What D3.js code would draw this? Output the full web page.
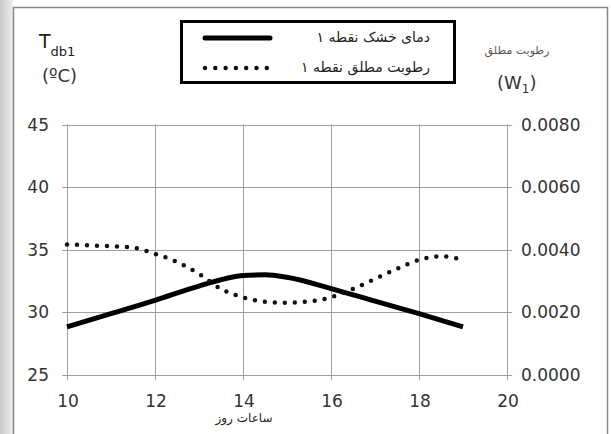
<!DOCTYPE html>
<html><head><meta charset="utf-8">
<script src="https://cdn.jsdelivr.net/npm/d3@7/dist/d3.min.js"></script>
<style>body{margin:0;background:#fff}svg{display:block}</style>
</head><body><svg id="c" width="611" height="434"></svg>
<script>
const hoursT = [10, 11, 12, 13, 14, 14.5, 15, 16, 17, 18, 19];
const tempT  = [28.85, 29.9, 30.96, 32.1, 32.95, 33.0, 32.8, 31.9, 30.9, 29.9, 28.85];
const hoursW = [10, 11, 11.5, 12, 12.5, 13, 13.5, 14, 14.5, 15, 15.5, 16, 16.5, 17, 17.5, 18, 18.5, 19];
const humW   = [0.00417, 0.00411, 0.00407, 0.00387, 0.00361, 0.00323, 0.00275, 0.00248, 0.00234, 0.00231, 0.00235, 0.00248, 0.00275, 0.00307, 0.00339, 0.00368, 0.00379, 0.00368];
const xTicks = [10, 12, 14, 16, 18, 20];
const yLeftTicks = [25, 30, 35, 40, 45];
const yRightTicks = [0, 0.002, 0.004, 0.006, 0.008];
const legendLabels = ["دمای خشک نقطه ۱", "رطوبت مطلق نقطه ۱"];
const xTitle = "ساعات روز";
const yRightTitle = "رطوبت مطلق";

const svg = d3.select("#c");
const F = "DejaVu Sans";
const defs = svg.append("defs");
const g1 = defs.append("linearGradient").attr("id","lg").attr("x1","0").attr("x2","1");
g1.append("stop").attr("offset","0").attr("stop-color","#c8c8c8");
g1.append("stop").attr("offset","1").attr("stop-color","#eeeeee");
svg.append("rect").attr("x",0).attr("y",0).attr("width",13).attr("height",434).attr("fill","url(#lg)");
svg.append("path").attr("d","M13.5,434 V7.5 H607.5 V434").attr("fill","none").attr("stroke","#888").attr("stroke-width",1.5);

const x = d3.scaleLinear().domain([10,20]).range([67,507]);
const yL = d3.scaleLinear().domain([25,45]).range([375,124.5]);
const yR = d3.scaleLinear().domain([0,0.008]).range([375,124.5]);

const grid = svg.append("g").attr("stroke","#a0a0a0").attr("stroke-width",1);
xTicks.forEach(t=>grid.append("line").attr("x1",Math.round(x(t))+0.5).attr("x2",Math.round(x(t))+0.5).attr("y1",124.5).attr("y2",380));
yLeftTicks.forEach(t=>grid.append("line").attr("x1",62).attr("x2",512).attr("y1",Math.round(yL(t))+0.5).attr("y2",Math.round(yL(t))+0.5));

const lab = svg.append("g").attr("font-family",F).attr("font-size",17).attr("fill","#333");
yLeftTicks.forEach(t=>lab.append("text").attr("x",49).attr("y",yL(t)+6).attr("text-anchor","end").text(t));
yRightTicks.forEach(t=>lab.append("text").attr("x",521).attr("y",yR(t)+6).text(d3.format(".4f")(t)));
xTicks.forEach(t=>lab.append("text").attr("x",x(t)+1).attr("y",407).attr("text-anchor","middle").text(t));

svg.append("text").attr("x",244).attr("y",422).attr("text-anchor","middle").attr("font-family",F).attr("font-size",12).attr("fill","#222").text(xTitle);

// left title
const lt = svg.append("text").attr("font-family",F).attr("fill","#222");
lt.append("tspan").attr("x",39).attr("y",48).attr("font-size",19).text("T");
lt.append("tspan").attr("dy",8).attr("font-size",13).text("db1");
svg.append("text").attr("x",42).attr("y",82).attr("font-family",F).attr("font-size",18).attr("fill","#333").text("(ºC)");
// right title
svg.append("text").attr("x",517).attr("y",54).attr("text-anchor","middle").attr("font-family",F).attr("font-size",11).attr("fill","#555").text(yRightTitle);
const rt = svg.append("text").attr("x",497).attr("y",89).attr("font-family",F).attr("font-size",18).attr("fill","#333");
rt.append("tspan").text("(W");
rt.append("tspan").attr("dy",4).attr("font-size",12).text("1");
rt.append("tspan").attr("dy",-4).text(")");

// lines
const lineT = d3.line().x((d,i)=>x(hoursT[i])).y(d=>yL(d)).curve(d3.curveMonotoneX);
svg.append("path").attr("d",lineT(tempT)).attr("fill","none").attr("stroke","#000").attr("stroke-width",5);
const lineW = d3.line().x((d,i)=>x(hoursW[i])).y(d=>yR(d)).curve(d3.curveMonotoneX);
svg.append("path").attr("d",lineW(humW)).attr("fill","none").attr("stroke","#111").attr("stroke-width",4.5)
  .attr("stroke-linecap","round").attr("stroke-dasharray","0 10");

// legend
svg.append("rect").attr("x",181.5).attr("y",21.5).attr("width",273).attr("height",61).attr("fill","#fff").attr("stroke","#000").attr("stroke-width",3);
svg.append("line").attr("x1",205).attr("x2",270).attr("y1",38).attr("y2",38).attr("stroke","#000").attr("stroke-width",5).attr("stroke-linecap","round");
svg.append("line").attr("x1",205).attr("x2",267).attr("y1",68).attr("y2",68).attr("stroke","#111").attr("stroke-width",4.5).attr("stroke-linecap","round").attr("stroke-dasharray","0 10.3");
svg.append("text").attr("x",430).attr("y",42).attr("text-anchor","end").attr("font-family",F).attr("font-size",14).attr("fill","#222").text(legendLabels[0]);
svg.append("text").attr("x",430).attr("y",72).attr("text-anchor","end").attr("font-family",F).attr("font-size",14).attr("fill","#222").text(legendLabels[1]);
</script></body></html>
